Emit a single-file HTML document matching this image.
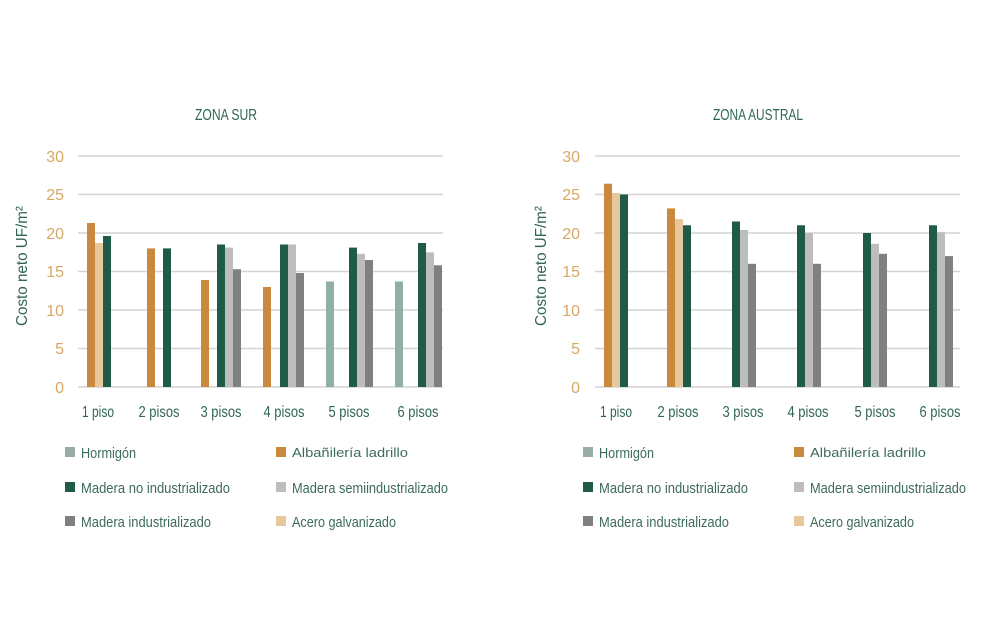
<!DOCTYPE html>
<html><head><meta charset="utf-8"><style>
html,body{margin:0;padding:0;background:#fff;width:1000px;height:636px;overflow:hidden}
text{font-family:"Liberation Sans Narrow","Liberation Sans",sans-serif}
text.reg{font-family:"Liberation Sans",sans-serif;font-size:13px}
</style></head><body>
<svg width="1000" height="636" viewBox="0 0 1000 636" xmlns="http://www.w3.org/2000/svg">
<g stroke="#d4d4d4" stroke-width="1.5">
<line x1="78" x2="443" y1="156" y2="156"/><line x1="78" x2="443" y1="194.5" y2="194.5"/><line x1="78" x2="443" y1="233" y2="233"/><line x1="78" x2="443" y1="271.5" y2="271.5"/><line x1="78" x2="443" y1="310" y2="310"/><line x1="78" x2="443" y1="348.5" y2="348.5"/><line x1="78" x2="443" y1="387" y2="387"/>
<line x1="595" x2="960" y1="156" y2="156"/><line x1="595" x2="960" y1="194.5" y2="194.5"/><line x1="595" x2="960" y1="233" y2="233"/><line x1="595" x2="960" y1="271.5" y2="271.5"/><line x1="595" x2="960" y1="310" y2="310"/><line x1="595" x2="960" y1="348.5" y2="348.5"/><line x1="595" x2="960" y1="387" y2="387"/>
</g>
<g font-size="16" fill="#d7a865" text-anchor="end">
<text x="64" y="162">30</text><text x="64" y="200">25</text><text x="64" y="239">20</text><text x="64" y="277">15</text><text x="64" y="316">10</text><text x="64" y="354">5</text><text x="64" y="393">0</text>
<text x="580" y="162">30</text><text x="580" y="200">25</text><text x="580" y="239">20</text><text x="580" y="277">15</text><text x="580" y="316">10</text><text x="580" y="354">5</text><text x="580" y="393">0</text>
</g>
<g font-size="16" fill="#2f6652" text-anchor="middle">
<text x="226" y="120" textLength="62" lengthAdjust="spacingAndGlyphs">ZONA SUR</text>
<text x="758" y="120" textLength="90" lengthAdjust="spacingAndGlyphs">ZONA AUSTRAL</text>
<text transform="translate(27,266) rotate(-90)" textLength="120" lengthAdjust="spacingAndGlyphs">Costo neto UF/m²</text>
<text transform="translate(546,266) rotate(-90)" textLength="120" lengthAdjust="spacingAndGlyphs">Costo neto UF/m²</text>
<text x="98" y="417" textLength="32" lengthAdjust="spacingAndGlyphs">1 piso</text>
<text x="159" y="417" textLength="41" lengthAdjust="spacingAndGlyphs">2 pisos</text>
<text x="221" y="417" textLength="41" lengthAdjust="spacingAndGlyphs">3 pisos</text>
<text x="284" y="417" textLength="41" lengthAdjust="spacingAndGlyphs">4 pisos</text>
<text x="349" y="417" textLength="41" lengthAdjust="spacingAndGlyphs">5 pisos</text>
<text x="418" y="417" textLength="41" lengthAdjust="spacingAndGlyphs">6 pisos</text>
<text x="616" y="417" textLength="32" lengthAdjust="spacingAndGlyphs">1 piso</text>
<text x="678" y="417" textLength="41" lengthAdjust="spacingAndGlyphs">2 pisos</text>
<text x="743" y="417" textLength="41" lengthAdjust="spacingAndGlyphs">3 pisos</text>
<text x="808" y="417" textLength="41" lengthAdjust="spacingAndGlyphs">4 pisos</text>
<text x="875" y="417" textLength="41" lengthAdjust="spacingAndGlyphs">5 pisos</text>
<text x="940" y="417" textLength="41" lengthAdjust="spacingAndGlyphs">6 pisos</text>
</g>
<g>
<rect x="87" y="223" width="8" height="164" fill="#c98a3e"/>
<rect x="95" y="243" width="8" height="144" fill="#e6c89c"/>
<rect x="103" y="236" width="8" height="151" fill="#1f5b48"/>
<rect x="147" y="248.4" width="8" height="138.6" fill="#c98a3e"/>
<rect x="163" y="248.4" width="8" height="138.6" fill="#1f5b48"/>
<rect x="201" y="280" width="8" height="107" fill="#c98a3e"/>
<rect x="217" y="244.5" width="8" height="142.5" fill="#1f5b48"/>
<rect x="225" y="247.6" width="8" height="139.4" fill="#bdbdbd"/>
<rect x="233" y="269.2" width="8" height="117.8" fill="#808080"/>
<rect x="263" y="287" width="8" height="100" fill="#c98a3e"/>
<rect x="280" y="244.5" width="8" height="142.5" fill="#1f5b48"/>
<rect x="288" y="244.5" width="8" height="142.5" fill="#bdbdbd"/>
<rect x="296" y="273" width="8" height="114" fill="#808080"/>
<rect x="326" y="281.5" width="8" height="105.5" fill="#8fb0a3"/>
<rect x="349" y="247.6" width="8" height="139.4" fill="#1f5b48"/>
<rect x="357" y="253.8" width="8" height="133.2" fill="#bdbdbd"/>
<rect x="365" y="260" width="8" height="127" fill="#808080"/>
<rect x="395" y="281.5" width="8" height="105.5" fill="#8fb0a3"/>
<rect x="418" y="243" width="8" height="144" fill="#1f5b48"/>
<rect x="426" y="252.3" width="8" height="134.7" fill="#bdbdbd"/>
<rect x="434" y="265.3" width="8" height="121.7" fill="#808080"/>
</g>
<g>
<rect x="604" y="183.7" width="8" height="203.3" fill="#c98a3e"/>
<rect x="612" y="193" width="8" height="194" fill="#e6c89c"/>
<rect x="620" y="194.5" width="8" height="192.5" fill="#1f5b48"/>
<rect x="667" y="208.4" width="8" height="178.6" fill="#c98a3e"/>
<rect x="675" y="219.1" width="8" height="167.9" fill="#e6c89c"/>
<rect x="683" y="225.3" width="8" height="161.7" fill="#1f5b48"/>
<rect x="732" y="221.5" width="8" height="165.5" fill="#1f5b48"/>
<rect x="740" y="230" width="8" height="157" fill="#bdbdbd"/>
<rect x="748" y="263.8" width="8" height="123.2" fill="#808080"/>
<rect x="797" y="225.3" width="8" height="161.7" fill="#1f5b48"/>
<rect x="805" y="233" width="8" height="154" fill="#bdbdbd"/>
<rect x="813" y="263.8" width="8" height="123.2" fill="#808080"/>
<rect x="863" y="233" width="8" height="154" fill="#1f5b48"/>
<rect x="871" y="243.8" width="8" height="143.2" fill="#bdbdbd"/>
<rect x="879" y="253.8" width="8" height="133.2" fill="#808080"/>
<rect x="929" y="225.3" width="8" height="161.7" fill="#1f5b48"/>
<rect x="937" y="232.2" width="8" height="154.8" fill="#bdbdbd"/>
<rect x="945" y="256.1" width="8" height="130.9" fill="#808080"/>
</g>
<g>
<rect x="65" y="447" width="10" height="10" fill="#98ada5"/>
<rect x="276" y="447" width="10" height="10" fill="#c98a3e"/>
<rect x="65" y="482" width="10" height="10" fill="#1f5b48"/>
<rect x="276" y="482" width="10" height="10" fill="#bdbdbd"/>
<rect x="65" y="516" width="10" height="10" fill="#808080"/>
<rect x="276" y="516" width="10" height="10" fill="#e6c89c"/>
<rect x="583" y="447" width="10" height="10" fill="#98ada5"/>
<rect x="794" y="447" width="10" height="10" fill="#c98a3e"/>
<rect x="583" y="482" width="10" height="10" fill="#1f5b48"/>
<rect x="794" y="482" width="10" height="10" fill="#bdbdbd"/>
<rect x="583" y="516" width="10" height="10" fill="#808080"/>
<rect x="794" y="516" width="10" height="10" fill="#e6c89c"/>
</g>
<g font-size="15" fill="#3d6b5b">
<text x="81" y="458" textLength="55" lengthAdjust="spacingAndGlyphs">Hormigón</text>
<text class="reg" x="292" y="457" textLength="116" lengthAdjust="spacingAndGlyphs">Albañilería ladrillo</text>
<text x="81" y="493" textLength="149" lengthAdjust="spacingAndGlyphs">Madera no industrializado</text>
<text x="292" y="493" textLength="156" lengthAdjust="spacingAndGlyphs">Madera semiindustrializado</text>
<text x="81" y="527" textLength="130" lengthAdjust="spacingAndGlyphs">Madera industrializado</text>
<text x="292" y="527" textLength="104" lengthAdjust="spacingAndGlyphs">Acero galvanizado</text>
<text x="599" y="458" textLength="55" lengthAdjust="spacingAndGlyphs">Hormigón</text>
<text class="reg" x="810" y="457" textLength="116" lengthAdjust="spacingAndGlyphs">Albañilería ladrillo</text>
<text x="599" y="493" textLength="149" lengthAdjust="spacingAndGlyphs">Madera no industrializado</text>
<text x="810" y="493" textLength="156" lengthAdjust="spacingAndGlyphs">Madera semiindustrializado</text>
<text x="599" y="527" textLength="130" lengthAdjust="spacingAndGlyphs">Madera industrializado</text>
<text x="810" y="527" textLength="104" lengthAdjust="spacingAndGlyphs">Acero galvanizado</text>
</g>
</svg>
</body></html>
